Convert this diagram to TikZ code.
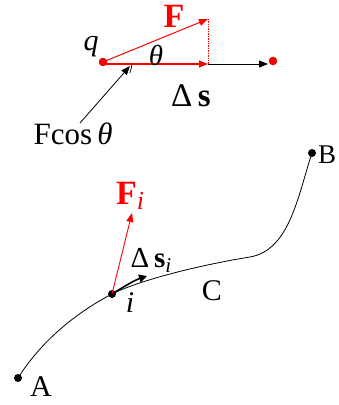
\documentclass[tikz,border=0pt]{standalone}
\usepackage{fontspec}
\setmainfont{Liberation Serif}
\usetikzlibrary{arrows.meta, positioning}

\tikzset{
    reddot/.style={circle, fill=red, draw=red!70!black, inner sep=0pt, minimum size=8pt},
    blackdot/.style={circle, fill=black, inner sep=0pt, minimum size=8pt},
    vec/.style={-{Triangle[length=9pt, width=7pt]}},
    lab/.style={font=\fontsize{30}{30}\selectfont},
}

\begin{document}
\begin{tikzpicture}[x=1pt, y=-1pt]
    \useasboundingbox (0,0) rectangle (338,405);
    % upper part: force on q along a straight step
    \node[reddot] (q) at (103,62) {};
    \node[reddot] (end) at (273,61) {};
    \coordinate (Ftip) at (208,19);
    \coordinate (Sbase) at (208,64);
    \coordinate (Send) at (268,64);
    \coordinate (qbase) at (103,64);
    \draw[black, line width=0.8pt, vec] (Sbase) -- (Send);
    \draw[red, densely dotted, line width=0.7pt] (Ftip) -- (Sbase);
    \draw[red, line width=1.5pt, vec] (qbase) -- (Sbase);
    \draw[red, line width=1pt, vec] (q.center) -- (Ftip);
    \draw[line width=0.7pt] (103,62) ++(22.5:29) arc[start angle=22.5, end angle=2, radius=29];
    \node[red, font=\fontsize{34}{34}\selectfont\bfseries] (Flab) at (174,16) {F};
    \node[lab, font=\fontsize{30}{30}\selectfont\itshape] (qlab) at (91,47) {q};
    \node[lab, font=\fontsize{29}{29}\selectfont\itshape] (theta) at (156,55) {θ};
    \node[lab, font=\fontsize{33}{33}\selectfont] (ds) at (191,96) {Δ\,\textbf{s}};
    \node[lab, font=\fontsize{31}{31}\selectfont] (fcos) at (73,134) {Fcos\,\textit{θ}};
    \coordinate (fcostip) at (130,66);
    \draw[line width=0.8pt, vec] (80,123) -- (fcostip);
    % lower part: path C from A to B
    \node[blackdot] (A) at (18,378) {};
    \node[blackdot] (B) at (312,153) {};
    \node[blackdot] (i) at (112,294) {};
    \draw[line width=0.8pt] (A.center) .. controls (45,335) and (85,308) .. (i.center)
        .. controls (140,280) and (200,265) .. (250,257)
        .. controls (290,250) and (298,195) .. (B.center);
    \coordinate (dstip) at (147,276);
    \draw[line width=1.6pt, -{Triangle[length=8pt, width=8pt]}] (i.center) .. controls (125,286) and (135,280) .. (dstip);
    \coordinate (Fitip) at (132,213);
    \draw[red, line width=0.9pt, vec] (i.center) -- (Fitip);
    \node[lab] (Alab) at (41,387) {A};
    \node[lab, font=\fontsize{27}{27}\selectfont, anchor=west, inner sep=0pt] (Blab) at (318,155) {B};
    \node[lab] (Clab) at (212,291) {C};
    \node[lab, font=\fontsize{30}{30}\selectfont\itshape] (ilab) at (130,303) {i};
    \node[red, font=\fontsize{34}{34}\selectfont] (Filab) at (130,196) {\textbf{F}\raisebox{-5pt}{\fontsize{26}{26}\selectfont\itshape i}};
    \node[font=\fontsize{29}{29}\selectfont] (dsi) at (151,260) {Δ\,\textbf{s}\raisebox{-5pt}{\fontsize{21}{21}\selectfont\itshape i}};
\end{tikzpicture}
\end{document}
